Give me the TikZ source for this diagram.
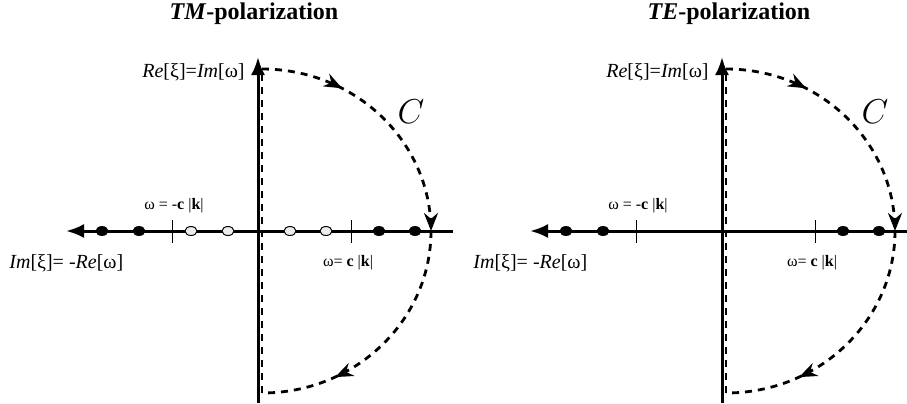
\documentclass[tikz,border=0pt]{standalone}
\usepackage{fontspec}
\setmainfont{Liberation Serif}
\usepackage{tikz}
\usetikzlibrary{arrows.meta,shapes.geometric,decorations.markings}

\tikzset{
  axis/.style={line width=1.5pt, -{Latex[length=9pt,width=7pt]}},
  contour/.style={line width=1.4pt, dash pattern=on 3.5pt off 3pt},
  arcarrows/.style={postaction={decorate}, decoration={markings,
    mark=at position 0.16 with {\arrow{Stealth[length=9pt,width=7pt]}},
    mark=at position 0.5 with {\arrow{Stealth[length=9pt,width=7pt]}},
    mark=at position 0.855 with {\arrow{Stealth[length=9pt,width=7pt]}}}},
  fulldot/.style={ellipse, draw, fill=black, minimum width=6pt, minimum height=4.5pt, inner sep=0pt},
  opendot/.style={ellipse, draw, fill=gray!15, line width=0.5pt, minimum width=6pt, minimum height=4.5pt, inner sep=0pt},
  tick/.style={line width=0.5pt},
  lbl/.style={font=\fontsize{10}{12}\selectfont, inner sep=1pt},
  small/.style={font=\fontsize{8}{10}\selectfont, inner sep=1pt},
}

\begin{document}
\begin{tikzpicture}[x=0.5pt,y=-0.5pt]
\useasboundingbox (0,0) rectangle (907,403);

% one complex plane per polarization
\foreach \p/\sx/\ttl/\tx/\xe in {a/0/TM/254/453, b/464/TE/265/443}{
\begin{scope}[shift={(\sx,0)}]
  \node (title\p) at (\tx,14) {\fontsize{12}{14}\selectfont\textbf{\textit{\ttl}-polarization}};

  \coordinate (top\p) at (258,57);
  \coordinate (bot\p) at (258,403);
  \coordinate (west\p) at (66,231);
  \coordinate (east\p) at (\xe,231);
  \coordinate (ct\p) at (262,69);
  \coordinate (cb\p) at (262,393);

  \draw [axis] (bot\p) -- (top\p);
  \draw [axis] (east\p) -- (west\p);
  \draw [tick] (172,220) -- (172,243);
  \draw [tick] (351,220) -- (351,243);

  \foreach \x in {102,139,379,415}
    \node [fulldot] (d\p\x) at (\x,231) {};

  % contour C
  \draw [contour, arcarrows] (ct\p) arc [start angle=90, end angle=-90, x radius=84.5pt, y radius=81pt];
  \draw [contour] (cb\p) -- (ct\p);

  \node [lbl, anchor=east] (re\p) at (247,72) {\textit{Re}[ξ]=\textit{Im}[ω]};
  \node [font=\fontsize{16}{18}\selectfont] (C\p) at (411,112) {$C$};
  \node [small] (neg\p) at (174,206) {ω = -\textbf{c} |\textbf{k}|};
  \node [lbl, anchor=west] (im\p) at (7,263) {\textit{Im}[ξ]= -\textit{Re}[ω]};
  \node [small] (pos\p) at (348,263) {ω= \textbf{c} |\textbf{k}|};
\end{scope}}

% light poles only for TM
\foreach \x in {191,228,290,326}
  \node [opendot] (w\x) at (\x,231) {};

\end{tikzpicture}
\end{document}
